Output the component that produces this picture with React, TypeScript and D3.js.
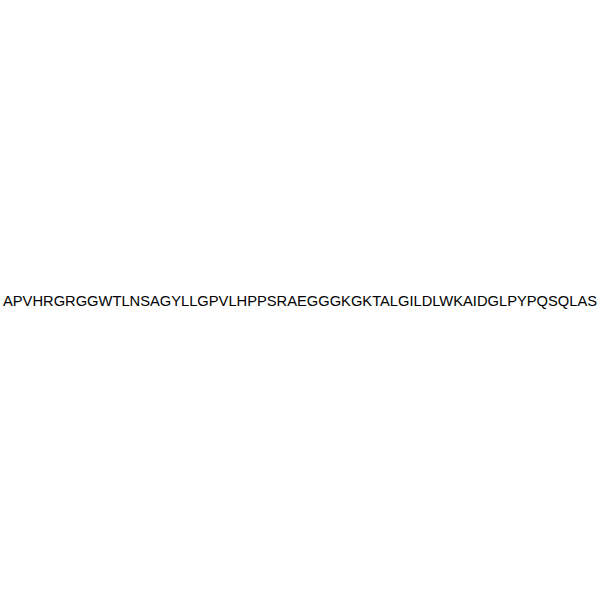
import { useEffect, useRef } from "react";
import * as d3 from "d3";

const width = 600;
const height = 600;

// peptide sequence shown in the picture
const sequence = "APVHRGRGGWTLNSAGYLLGPVLHPPSRAEGGGKGKTALGILDLWKAIDGLPYPQSQLAS";

export default function App() {
  const ref = useRef<SVGSVGElement>(null);

  useEffect(() => {
    const svg = d3.select(ref.current);
    svg.selectAll("*").remove();
    const x = d3.scaleLinear().domain([0, 1]).range([0, width]);
    const y = d3.scaleLinear().domain([0, 1]).range([0, height]);

    svg
      .append("rect")
      .attr("width", width)
      .attr("height", height)
      .attr("fill", "white");

    svg
      .append("text")
      .attr("x", x(0.5))
      .attr("y", y(0.51))
      .attr("text-anchor", "middle")
      .attr("font-family", "'Liberation Sans', Arial, sans-serif")
      .attr("font-size", 14.8)
      .attr("textLength", width - 6)
      .attr("lengthAdjust", "spacingAndGlyphs")
      .attr("fill", "#000")
      .text(sequence);
  }, []);

  return (
    <div style={{ position: "fixed", left: 0, top: 0 }}>
      <svg ref={ref} width={width} height={height} />
    </div>
  );
}
